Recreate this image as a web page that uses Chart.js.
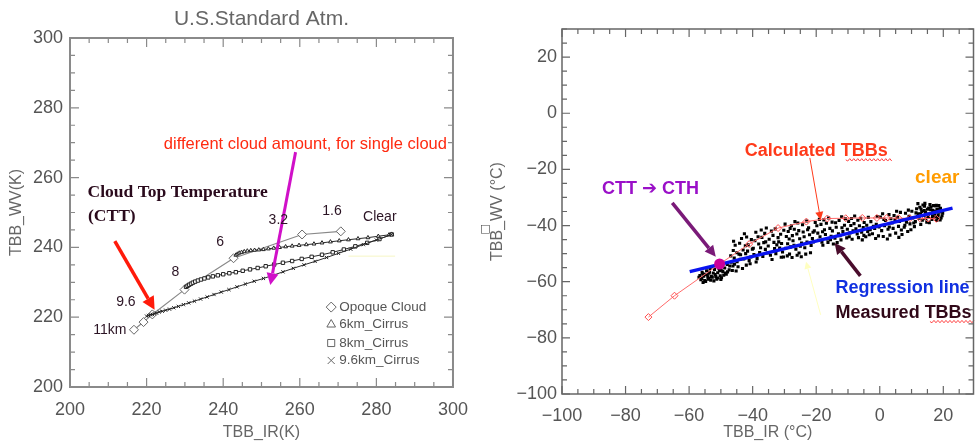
<!DOCTYPE html>
<html>
<head>
<meta charset="utf-8">
<script src="https://cdn.jsdelivr.net/npm/chart.js@4.4.1/dist/chart.umd.min.js"></script>
<style>
  body { margin: 0; background: #fff; }
  .wrap { position: relative; width: 979px; height: 446px; overflow: hidden; }
  canvas { position: absolute; top: 0; }
  #left { left: 0; }
  #right { left: 480px; }
</style>
</head>
<body>
<div class="wrap">
  <canvas id="left" width="480" height="446"></canvas>
  <canvas id="right" width="499" height="446"></canvas>
</div>
<script>
// ---- left panel: simulated TBBs, U.S. standard atmosphere (K) ----
const opaqueIR = [216.7, 219.2, 221.5, 229.9, 242.7, 260.6, 270.7];
const opaqueWV = [216.4, 218.6, 220.8, 227.9, 236.9, 243.7, 244.6];

const cirrus6IR = [243.3, 243.7, 244.2, 244.8, 245.5, 246.3, 247.2, 248.2, 249.3, 250.5, 251.8, 253.2, 254.7,
  256.3, 258.0, 259.8, 261.7, 263.7, 265.8, 268.0, 270.3, 272.7, 275.2, 277.8, 280.5, 283.3, 284.0];
const cirrus6WV = [237.8, 238.1, 238.4, 238.6, 238.8, 239.0, 239.1, 239.2, 239.3, 239.4, 239.6, 239.8, 240.0,
  240.2, 240.4, 240.6, 240.8, 241.0, 241.3, 241.6, 241.9, 242.2, 242.5, 242.8, 243.2, 243.6, 243.8];

const cirrus8IR = [230.3, 230.7, 231.1, 231.6, 232.1, 232.7, 233.4, 234.2, 235.1, 236.1, 237.3, 238.6, 240.0,
  241.6, 243.3, 245.1, 247.0, 249.0, 251.1, 253.3, 255.6, 258.0, 260.5, 263.1, 265.8, 268.6, 271.5, 274.5,
  277.6, 280.8, 284.0];
const cirrus8WV = [228.7, 229.0, 229.3, 229.6, 229.9, 230.2, 230.5, 230.8, 231.1, 231.4, 231.7, 232.0, 232.3,
  232.6, 232.9, 233.3, 233.7, 234.1, 234.6, 235.1, 235.6, 236.1, 236.7, 237.3, 237.9, 238.6, 239.4, 240.3,
  241.3, 242.4, 243.7];

const cirrus96IR = [220.0, 220.5, 221.0, 221.5, 222.0, 222.6, 223.3, 224.1, 225.0, 226.0, 227.1, 228.3, 229.6,
  231.0, 232.5, 234.1, 235.8, 237.6, 239.5, 241.5, 243.6, 245.8, 248.1, 250.5, 253.0, 255.6, 258.3, 261.1,
  264.0, 267.0, 270.1, 273.3, 276.6, 280.0, 284.0];
const cirrus96WV = [220.3, 220.5, 220.7, 220.8, 221.0, 221.2, 221.5, 221.7, 222.0, 222.3, 222.7, 223.1, 223.6,
  224.1, 224.6, 225.2, 225.8, 226.5, 227.2, 227.9, 228.7, 229.5, 230.3, 231.1, 232.0, 233.0, 234.0, 235.0,
  236.0, 237.1, 238.3, 239.5, 240.8, 242.1, 243.7];

const faintIR = [272.7, 284.9];
const faintWV = [237.5, 237.5];

const heightLabels = ['11km', '9.6', '8', '6', '3.2', '1.6', 'Clear'];
const heightIR = [210.4, 214.6, 227.5, 239.2, 254.4, 268.4, 280.9];
const heightWV = [216.3, 224.4, 232.8, 241.6, 247.7, 250.5, 248.6];

const legendLabels = ['Opoque Cloud', '6km_Cirrus', '8km_Cirrus', '9.6km_Cirrus'];
const legendStyles = ['rectRot', 'triangle', 'rect', 'crossRot'];
const legendWV = [222.9, 217.9, 212.6, 207.6];

// ---- right panel: measured vs calculated TBBs (deg C) ----
const calcIR = [-72.8, -64.6, -50.4, -41.1, -32.0, -23.1, -16.5, -10.7, -5.5, -0.9, 2.2, 5.9, 9.5, 12.6, 15.2, 17.8];
const calcWV = [-72.6, -65.0, -53.7, -46.6, -40.9, -38.6, -37.5, -37.4, -37.3, -37.3, -37.3, -37.4, -37.4, -37.4, -37.5, -37.6];

const regrIR = [-59.8, 22.9];
const regrWV = [-56.4, -33.8];

const cttIR = [-50.4];
const cttWV = [-53.7];

const measuredTBB = [
  // cold end cluster
  [-56.6,-57.8],[-55.1,-59.6],[-53.8,-57.0],[-56.0,-58.9],[-52.7,-58.4],[-54.5,-56.1],[-51.3,-59.1],[-55.7,-57.2],
  [-50.2,-57.9],[-53.2,-59.5],[-49.4,-56.4],[-54.1,-58.3],[-52.0,-55.6],[-48.3,-57.3],[-50.9,-58.7],[-55.4,-58.0],
  [-47.4,-55.8],[-53.6,-56.6],[-51.8,-57.5],[-49.8,-58.6],[-56.3,-59.3],[-52.4,-56.9],[-48.8,-55.1],[-54.8,-59.9],
  [-50.6,-55.4],[-47.9,-56.5],[-53.0,-58.1],[-55.9,-56.7],[-51.0,-56.8],[-49.1,-57.7],[-52.9,-54.7],[-54.3,-57.6],
  [-50.0,-59.2],[-48.0,-53.9],[-56.9,-58.4],[-51.6,-58.2],[-53.4,-55.3],[-49.6,-54.6],[-47.2,-54.4],[-55.0,-57.4],
  [-52.2,-59.7],[-50.4,-56.1],[-54.0,-59.1],[-48.6,-56.9],[-51.4,-54.2],[-55.6,-60.3],[-53.7,-58.9],[-49.9,-55.9],
  [-46.7,-53.1],[-45.2,-56.2],[-43.8,-50.4],[-46.1,-48.9],[-44.6,-54.7],[-42.3,-47.2],[-45.8,-51.6],[-41.1,-52.5],
  [-43.2,-55.3],[-40.4,-45.0],[-46.4,-56.0],[-44.1,-46.3],[-42.8,-51.9],[-41.6,-49.1],[-45.0,-49.7],[-40.8,-53.6],
  [-43.5,-44.6],[-46.9,-50.8],[-42.0,-54.1],[-44.9,-52.9],[-41.9,-44.1],[-40.1,-48.4],[-45.5,-47.0],[-43.0,-48.7],
  [-46.2,-54.4],[-44.3,-50.2],[-41.4,-46.9],[-42.6,-42.9],[-40.6,-51.2],[-45.7,-53.8],[-43.9,-52.0],[-46.0,-45.6],
  [-42.2,-50.0],
  [-39.3,-45.4],[-37.8,-49.6],[-36.2,-42.8],[-38.6,-51.8],[-35.1,-47.3],[-33.6,-43.5],[-39.8,-48.1],[-34.4,-50.6],
  [-31.8,-45.8],[-37.1,-44.2],[-32.9,-41.2],[-38.1,-46.6],[-30.6,-49.4],[-35.7,-40.9],[-33.1,-48.2],[-36.8,-51.0],
  [-31.2,-43.1],[-39.0,-42.4],[-34.8,-44.9],[-32.4,-46.9],[-37.5,-47.9],[-30.2,-41.7],[-35.9,-45.8],[-33.9,-52.1],
  [-38.9,-53.0],[-31.5,-48.0],[-36.5,-46.1],[-34.1,-42.0],[-32.0,-44.3],[-37.3,-41.6],[-30.9,-46.4],[-35.4,-49.8],
  [-39.6,-50.3],[-33.3,-46.0],[-38.3,-44.0],[-31.0,-51.3],[-36.0,-48.5],[-32.7,-50.0],
  [-30.3,-51.2],[-29.1,-50.8],[-27.6,-51.4],[-26.0,-50.6],[-24.7,-51.1],[-23.3,-50.2],[-21.8,-49.7],[-28.4,-50.2],
  [-25.4,-49.8],
  [-29.4,-43.9],[-28.1,-47.6],[-26.9,-41.3],[-25.2,-44.7],[-29.8,-39.5],[-23.6,-47.9],[-27.3,-45.4],[-22.4,-40.8],
  [-28.8,-42.1],[-24.1,-42.3],[-26.4,-48.4],[-21.2,-44.6],[-29.0,-46.5],[-25.8,-39.1],[-22.9,-45.9],[-27.8,-40.1],
  [-20.6,-41.9],[-24.6,-46.2],[-26.1,-43.0],[-23.0,-38.4],[-28.5,-44.8],[-21.6,-47.1],[-25.5,-41.8],[-20.3,-38.9],
  [-27.0,-47.0],[-22.1,-43.3],[-24.3,-39.7],[-29.6,-48.1],[-23.8,-44.0],[-26.7,-38.6],[-21.0,-42.4],[-28.2,-41.0],
  [-25.0,-47.4],[-22.7,-41.5],[-20.9,-45.8],[-27.5,-43.6],
  [-19.5,-42.7],[-18.2,-45.9],[-16.8,-39.2],[-15.3,-43.8],[-13.7,-40.6],[-19.0,-37.8],[-12.2,-45.1],[-17.4,-41.5],
  [-14.6,-46.6],[-11.1,-39.9],[-18.8,-44.0],[-16.1,-37.3],[-13.0,-42.9],[-10.4,-44.4],[-19.8,-40.1],[-15.7,-41.0],
  [-12.8,-38.2],[-17.9,-47.0],[-14.1,-44.5],[-11.6,-42.1],[-16.5,-44.8],[-10.8,-37.6],[-18.5,-39.6],[-13.4,-46.1],
  [-15.0,-38.8],[-12.5,-43.6],[-17.1,-43.2],[-19.3,-45.3],[-14.9,-41.9],[-11.9,-40.8],[-16.3,-46.0],[-10.2,-41.3],
  [-13.9,-39.0],[-18.0,-42.2],[-15.5,-45.0],[-12.0,-36.9],[-17.6,-38.0],
  [-9.4,-42.6],[-8.1,-39.3],[-6.7,-44.3],[-5.2,-40.7],[-3.6,-37.1],[-9.8,-38.5],[-2.3,-42.9],[-7.5,-41.2],
  [-4.4,-44.0],[-1.1,-39.6],[-8.7,-44.9],[-6.0,-37.4],[-3.0,-41.5],[-0.4,-43.7],[-9.1,-40.0],[-5.7,-42.4],
  [-2.8,-38.6],[-7.9,-36.6],[-4.9,-38.9],[-1.6,-41.0],[-6.4,-40.1],[-0.8,-36.8],[-8.4,-41.9],[-3.3,-43.3],
  [-5.5,-45.1],[-2.0,-40.3],[-7.1,-43.0],[-9.6,-44.0],[-4.1,-39.9],[-1.3,-44.6],[-6.9,-38.1],[-0.2,-40.5],
  [-3.8,-42.1],[-8.9,-37.5],[-5.0,-43.5],
  [0.6,-41.8],[1.8,-38.2],[3.2,-43.4],[4.5,-36.4],[5.9,-40.3],[7.4,-37.9],[8.8,-42.1],[0.2,-37.0],
  [2.4,-44.8],[3.9,-39.1],[5.3,-34.9],[6.8,-41.6],[8.1,-35.6],[9.5,-39.4],[1.1,-43.9],[2.9,-36.1],
  [4.2,-41.0],[6.2,-38.5],[7.7,-40.6],[9.2,-36.7],[1.5,-40.1],[3.5,-37.6],[5.0,-42.7],[6.5,-35.3],
  [8.4,-38.8],[9.8,-41.5],[0.9,-35.8],[2.6,-41.3],[4.8,-38.0],[7.0,-43.2],[9.0,-34.5],[5.6,-37.1],
  [3.0,-40.5],[7.9,-39.9],[1.3,-37.8],[6.0,-44.2],
  // warm end cluster
  [10.4,-37.3],[11.6,-34.0],[12.9,-39.6],[14.1,-33.1],[15.3,-36.9],[16.7,-34.6],[17.9,-38.2],[19.1,-33.9],
  [10.9,-40.4],[12.2,-35.8],[13.6,-32.7],[14.8,-38.8],[16.1,-33.4],[17.3,-36.0],[18.6,-32.9],[19.6,-36.5],
  [11.2,-38.6],[12.6,-33.5],[13.9,-36.4],[15.0,-34.2],[16.4,-37.8],[17.7,-33.0],[18.9,-35.2],[10.1,-34.9],
  [11.9,-36.7],[13.2,-35.0],[14.5,-37.6],[15.8,-32.5],[17.0,-35.4],[18.2,-37.1],[19.4,-34.8],[10.7,-39.1],
  [12.0,-32.2],[13.4,-38.1],[14.4,-35.3],[15.6,-39.0],[16.9,-32.9],[18.0,-34.3],[19.0,-38.0],[11.4,-35.5],
  [12.4,-37.4],[14.0,-34.7],[15.4,-33.8],[16.2,-35.7],[17.5,-34.9],[18.4,-36.2],[19.8,-35.6],[13.0,-34.1],
  [14.7,-36.1],[16.6,-36.8],[17.8,-32.8],[15.1,-35.9],[18.7,-34.1],[16.0,-34.4],[17.2,-37.2],[19.3,-37.3],
  [12.8,-36.0],[14.2,-32.1]
];

// annotations, placed in data units of each panel
const leftTexts = [
  { text: 'Cloud Top Temperature', x: 204.6, y: 255.7, font: "bold 17.5px 'Liberation Serif', serif", color: '#2a0a1c' },
  { text: '(CTT)', x: 204.7, y: 248.8, font: "bold 17.5px 'Liberation Serif', serif", color: '#2a0a1c' },
  { text: 'different cloud amount, for single cloud', x: 224.5, y: 269.6, font: "16.5px 'Liberation Sans', sans-serif", color: '#ff2a10' }
];
const leftArrows = [
  { from: [211.7, 241.8], to: [222.1, 222.1], color: '#ff1a0a', width: 3.5, head: 13 },
  { from: [258.9, 267.3], to: [252.3, 229.2], color: '#d010c8', width: 3, head: 12 }
];
const rightTexts = [
  { text: 'Calculated TBBs', x: -42.5, y: -13.4, font: "bold 18px 'Liberation Sans', sans-serif", color: '#ff3a1a' },
  { text: 'clear', x: 11.1, y: -23.0, font: "bold 19px 'Liberation Sans', sans-serif", color: '#ff9c00' },
  { text: 'CTT \u2794 CTH', x: -87.4, y: -26.9, font: "bold 18px 'Liberation Sans', 'DejaVu Sans', sans-serif", color: '#9a10c8' },
  { text: 'Regression line', x: -13.9, y: -62.2, font: "bold 18px 'Liberation Sans', sans-serif", color: '#1030e0' },
  { text: 'Measured TBBs', x: -13.9, y: -71.1, font: "bold 18px 'Liberation Sans', sans-serif", color: '#300818' }
];
const rightArrows = [
  { from: [-65.3, -31.9], to: [-51.6, -51.1], color: '#7a1a78', width: 3.5, head: 11 },
  { from: [-22.0, -15.9], to: [-18.6, -38.0], color: '#ff3a1a', width: 1, head: 8 },
  { from: [-6.1, -57.9], to: [-14.2, -46.2], color: '#4a0c2c', width: 3.5, head: 11 },
  { from: [-18.6, -71.8], to: [-23.2, -52.9], color: '#ffffc0', width: 1, head: 7 }
];
const rightSquiggles = [
  { x0: -10.7, x1: 3.3, y: -16.6 },
  { x0: 15.8, x1: 29.5, y: -74.2 }
];

const pts = (xs, ys) => xs.map((x, i) => ({ x: x, y: ys[i] }));

const tickFont = { family: "'Liberation Sans', Arial, sans-serif", size: 18 };
const titleFont = { family: "'Liberation Sans', Arial, sans-serif", size: 16 };

function drawArrow(ctx, x0, y0, x1, y1, a) {
  const ang = Math.atan2(y1 - y0, x1 - x0);
  const hw = a.head * 0.5;
  const bx = x1 - Math.cos(ang) * a.head, by = y1 - Math.sin(ang) * a.head;
  ctx.strokeStyle = a.color;
  ctx.fillStyle = a.color;
  ctx.lineWidth = a.width;
  ctx.beginPath(); ctx.moveTo(x0, y0); ctx.lineTo(bx, by); ctx.stroke();
  ctx.beginPath();
  ctx.moveTo(x1, y1);
  ctx.lineTo(bx + Math.sin(ang) * hw, by - Math.cos(ang) * hw);
  ctx.lineTo(bx - Math.sin(ang) * hw, by + Math.cos(ang) * hw);
  ctx.closePath();
  ctx.fill();
}

// IDL style box: frame plus inward ticks on all four sides
function idlFrame(color, width, major, minor) {
  return {
    id: 'idlFrame',
    afterDraw(chart) {
      const { ctx, chartArea: a, scales: { x, y } } = chart;
      ctx.save();
      ctx.strokeStyle = color;
      ctx.lineWidth = width;
      ctx.strokeRect(a.left, a.top, a.right - a.left, a.bottom - a.top);
      ctx.lineWidth = 1.2;
      ctx.beginPath();
      x.ticks.forEach(t => {
        if (t.value % 5) return;
        const px = x.getPixelForValue(t.value);
        const len = t.value % 20 === 0 ? major : minor;
        ctx.moveTo(px, a.bottom); ctx.lineTo(px, a.bottom - len);
        ctx.moveTo(px, a.top); ctx.lineTo(px, a.top + len);
      });
      y.ticks.forEach(t => {
        if (t.value % 5) return;
        const py = y.getPixelForValue(t.value);
        const len = t.value % 20 === 0 ? major : minor;
        ctx.moveTo(a.left, py); ctx.lineTo(a.left + len, py);
        ctx.moveTo(a.right, py); ctx.lineTo(a.right - len, py);
      });
      ctx.stroke();
      ctx.restore();
    }
  };
}

function notes(texts, arrows, extra) {
  return {
    id: 'notes',
    afterDatasetsDraw(chart) {
      const { ctx, scales: { x, y } } = chart;
      ctx.save();
      arrows.forEach(a => drawArrow(ctx,
        x.getPixelForValue(a.from[0]), y.getPixelForValue(a.from[1]),
        x.getPixelForValue(a.to[0]), y.getPixelForValue(a.to[1]), a));
      ctx.textBaseline = 'middle';
      texts.forEach(t => {
        ctx.font = t.font;
        ctx.fillStyle = t.color;
        ctx.textAlign = t.align || 'left';
        ctx.fillText(t.text, x.getPixelForValue(t.x), y.getPixelForValue(t.y));
      });
      if (extra) extra(chart, ctx, x, y);
      ctx.restore();
    }
  };
}

function axis(min, max, title, size, labelPad, titlePad, horizontal) {
  return {
    type: 'linear',
    min: min,
    max: max,
    afterFit: s => { if (horizontal) s.height = size; else s.width = size; },
    grid: { display: false, drawTicks: false },
    border: { display: false },
    ticks: {
      stepSize: 5,
      autoSkip: false,
      maxRotation: 0,
      includeBounds: false,
      padding: labelPad,
      color: '#555',
      font: tickFont,
      callback: v => v % 20 === 0 ? (v < 0 ? '\u2212' + Math.abs(v) : String(v)) : ''
    },
    title: { display: true, text: title, color: '#666', font: titleFont, padding: titlePad }
  };
}

const leftExtra = (chart, ctx, x, y) => {
  const a = chart.chartArea;
  ctx.font = "21px 'Liberation Sans', sans-serif";
  ctx.fillStyle = '#666';
  ctx.textAlign = 'center';
  ctx.fillText('U.S.Standard Atm.', (a.left + a.right) / 2, 19);

  ctx.font = "14px 'Liberation Sans', sans-serif";
  ctx.fillStyle = '#2b1424';
  heightLabels.forEach((lab, i) => ctx.fillText(lab, x.getPixelForValue(heightIR[i]), y.getPixelForValue(heightWV[i])));

  ctx.font = "13.5px 'Liberation Sans', sans-serif";
  ctx.textAlign = 'left';
  legendLabels.forEach((lab, i) => {
    const py = y.getPixelForValue(legendWV[i]);
    ctx.strokeStyle = '#666';
    ctx.fillStyle = 'rgba(0,0,0,0)';
    ctx.lineWidth = 1;
    Chart.helpers.drawPoint(ctx, { pointStyle: legendStyles[i], radius: 5, borderWidth: 1, rotation: 0 },
      x.getPixelForValue(268.2), py);
    ctx.fillStyle = '#555';
    ctx.fillText(lab, x.getPixelForValue(270.3), py);
  });
};

const rightExtra = (chart, ctx, x, y) => {
  ctx.strokeStyle = '#ff4444';
  ctx.lineWidth = 1;
  rightSquiggles.forEach(s => {
    const x0 = x.getPixelForValue(s.x0), x1 = x.getPixelForValue(s.x1), py = y.getPixelForValue(s.y);
    ctx.beginPath();
    ctx.moveTo(x0, py);
    for (let px = x0, k = 0; px < x1; px += 2, k++) ctx.lineTo(px + 2, py + (k % 2 ? -1.2 : 1.2));
    ctx.stroke();
  });
  ctx.font = "11px 'DejaVu Sans', sans-serif";
  ctx.fillStyle = '#444';
  ctx.textAlign = 'left';
  ctx.fillText('\u25A1', 0, y.getPixelForValue(-41.2));
};

new Chart(document.getElementById('left'), {
  type: 'scatter',
  data: {
    datasets: [
      { label: '9.6km_Cirrus', data: pts(cirrus96IR, cirrus96WV), showLine: true, borderColor: '#2a2a2a', borderWidth: 1,
        pointStyle: 'crossRot', pointRadius: 2.3, pointBorderColor: '#222', pointBorderWidth: 1, order: 1 },
      { label: '8km_Cirrus', data: pts(cirrus8IR, cirrus8WV), showLine: true, borderColor: '#2a2a2a', borderWidth: 1,
        pointStyle: 'rect', pointRadius: 2.4, pointBackgroundColor: '#fff', pointBorderColor: '#222', pointBorderWidth: 1, order: 2 },
      { label: '6km_Cirrus', data: pts(cirrus6IR, cirrus6WV), showLine: true, borderColor: '#2a2a2a', borderWidth: 1,
        pointStyle: 'triangle', pointRadius: 2.2, pointBackgroundColor: '#fff', pointBorderColor: '#222', pointBorderWidth: 1, order: 3 },
      { label: 'Opaque Cloud', data: pts(opaqueIR, opaqueWV), showLine: true, borderColor: '#888', borderWidth: 1.2,
        pointStyle: 'rectRot', pointRadius: 4.5, pointBackgroundColor: '#fff', pointBorderColor: '#666', pointBorderWidth: 1, order: 4 },
      { label: 'faint', data: pts(faintIR, faintWV), showLine: true, borderColor: '#f6f6c4', borderWidth: 1, pointRadius: 0, order: 5 }
    ]
  },
  options: {
    responsive: false,
    animation: false,
    layout: { padding: { left: 0, right: 26, top: 38, bottom: 0 } },
    plugins: { legend: { display: false }, tooltip: { enabled: false } },
    scales: {
      x: axis(200, 300, 'TBB_IR(K)', 59, 12, { top: 0, bottom: 4 }, true),
      y: axis(200, 300, 'TBB_WV(K)', 70, 7, { top: 7, bottom: 0 }, false)
    }
  },
  plugins: [idlFrame('#8a8a8a', 2, 9, 5), notes(leftTexts, leftArrows, leftExtra)]
});

new Chart(document.getElementById('right'), {
  type: 'scatter',
  data: {
    datasets: [
      { label: 'CTT', data: pts(cttIR, cttWV), pointRadius: 5.5, pointBackgroundColor: '#cc0099', pointBorderWidth: 0, order: 0 },
      { label: 'Regression line', data: pts(regrIR, regrWV), showLine: true, borderColor: '#0a14f0', borderWidth: 3.5, pointRadius: 0, order: 1 },
      { label: 'Calculated TBBs', data: pts(calcIR, calcWV), showLine: true, borderColor: '#ff6a6a', borderWidth: 1,
        pointStyle: 'rectRot', pointRadius: 3.5, pointBackgroundColor: 'rgba(255,255,255,0)', pointBorderColor: '#ff5050', pointBorderWidth: 1, order: 2 },
      { label: 'Measured TBBs', data: measuredTBB.map(p => ({ x: p[0], y: p[1] })), pointStyle: 'rect', pointRadius: 2.2,
        pointBackgroundColor: '#000', pointBorderWidth: 0, order: 3 }
    ]
  },
  options: {
    responsive: false,
    animation: false,
    layout: { padding: { left: 0, right: 1.5, top: 29, bottom: 0 } },
    plugins: { legend: { display: false }, tooltip: { enabled: false } },
    scales: {
      x: axis(-100, 29.5, 'TBB_IR (\u00B0C)', 52, 11, { top: 0, bottom: 4 }, true),
      y: axis(-100, 30, 'TBB_WV (\u00B0C)', 82, 5, { top: 8, bottom: 0 }, false)
    }
  },
  plugins: [idlFrame('#666', 1.5, 8, 5), notes(rightTexts, rightArrows, rightExtra)]
});
</script>
</body>
</html>
